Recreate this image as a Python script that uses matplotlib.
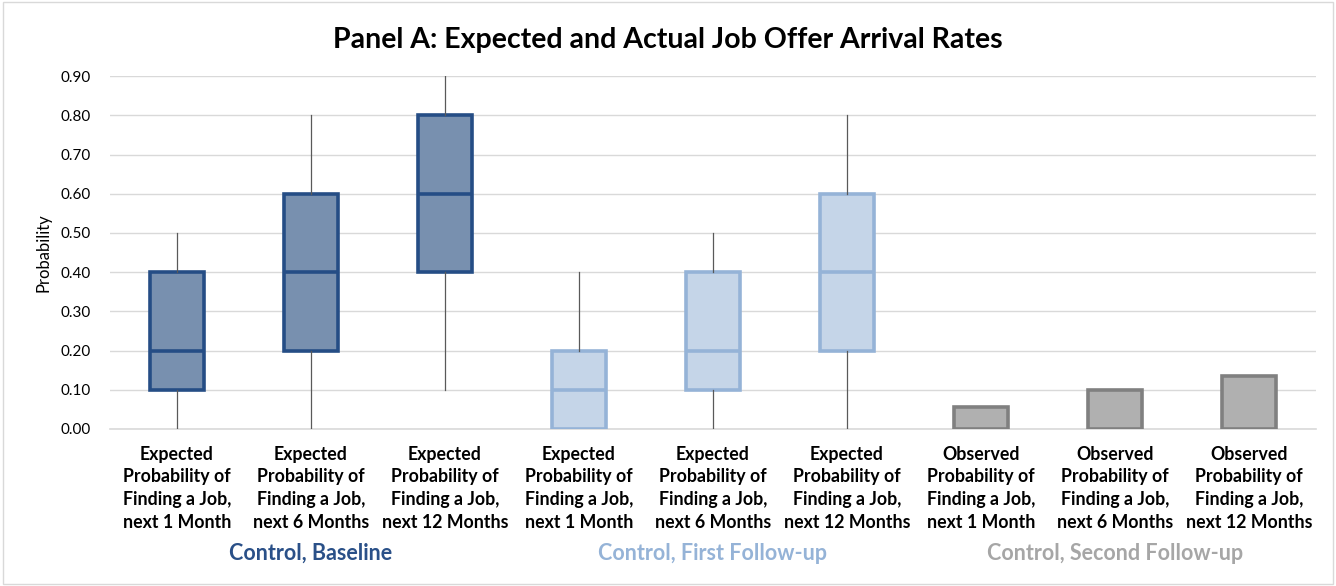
import matplotlib
matplotlib.use("Agg")
import matplotlib.pyplot as plt
from matplotlib.patches import Rectangle

plt.rcParams['font.family'] = ['Lato', 'DejaVu Sans']

# categories (tick labels)
labels = [
    "Expected\nProbability of\nFinding a Job,\nnext 1 Month",
    "Expected\nProbability of\nFinding a Job,\nnext 6 Months",
    "Expected\nProbability of\nFinding a Job,\nnext 12 Months",
    "Expected\nProbability of\nFinding a Job,\nnext 1 Month",
    "Expected\nProbability of\nFinding a Job,\nnext 6 Months",
    "Expected\nProbability of\nFinding a Job,\nnext 12 Months",
    "Observed\nProbability of\nFinding a Job,\nnext 1 Month",
    "Observed\nProbability of\nFinding a Job,\nnext 6 Months",
    "Observed\nProbability of\nFinding a Job,\nnext 12 Months",
]
groups = ["Control, Baseline", "Control, First Follow-up", "Control, Second Follow-up"]

# box plot stats for the expected probabilities (baseline, then first follow-up)
whislo = [0.0, 0.0, 0.1, 0.0, 0.0, 0.0]
q1 = [0.1, 0.2, 0.4, 0.0, 0.1, 0.2]
med = [0.2, 0.4, 0.6, 0.1, 0.2, 0.4]
q3 = [0.4, 0.6, 0.8, 0.2, 0.4, 0.6]
whishi = [0.5, 0.8, 0.9, 0.4, 0.5, 0.8]

# observed probabilities (second follow-up)
observed = [0.057, 0.10, 0.135]

fill_cols = ["#7890AF", "#C5D5E8"]
edge_cols = ["#254D85", "#95B3D7"]
group_cols = ["#2A5088", "#95B3D7", "#A6A6A6"]

fig = plt.figure(figsize=(13.36, 5.86), dpi=100)
ax = fig.add_axes([0.0823, 0.268, 0.9027, 0.602])

for i in range(6):
    st = [dict(whislo=whislo[i], q1=q1[i], med=med[i], q3=q3[i], whishi=whishi[i], fliers=[])]
    g = i // 3
    ax.bxp(st, positions=[i], widths=0.40, patch_artist=True, showcaps=False,
           boxprops=dict(facecolor=fill_cols[g], edgecolor=edge_cols[g], linewidth=2.6),
           medianprops=dict(color=edge_cols[g], linewidth=2.6),
           whiskerprops=dict(color="#595959", linewidth=0.9),
           manage_ticks=False, zorder=3)

ax.bar(range(6, 9), observed, width=0.40, color="#B0B0B0", edgecolor="#808080",
       linewidth=2.6, zorder=3)

ax.set_xlim(-0.5, 8.5)
ax.set_ylim(0, 0.9)
ax.set_yticks([i / 10 for i in range(10)])
ax.set_yticklabels([f"{i / 10:.2f}" for i in range(10)], fontsize=11)
ax.set_xticks(range(9))
ax.set_xticklabels(labels, fontsize=12.8, fontweight='bold', linespacing=1.42)
ax.tick_params(axis='both', length=0, colors="#000000")
ax.tick_params(axis='x', pad=12)
ax.tick_params(axis='y', pad=14)
ax.grid(axis='y', color="#D9D9D9", linewidth=1)
ax.set_axisbelow(True)
for s in ['top', 'right', 'left']:
    ax.spines[s].set_visible(False)
ax.spines['bottom'].set_color("#D9D9D9")
ax.spines['bottom'].set_linewidth(1.2)
ax.set_ylabel("Probability", fontsize=12, labelpad=6)

for k, name in enumerate(groups):
    ax.text(3 * k + 1, -0.318, name, transform=ax.transData, ha='center', va='center',
            fontsize=15.5, fontweight='bold', color=group_cols[k])

fig.text(0.5, 0.932, "Panel A: Expected and Actual Job Offer Arrival Rates",
         ha='center', va='center', fontsize=20.5, fontweight='bold')

fig.patches.append(Rectangle((0.002, 0.003), 0.996, 0.994, transform=fig.transFigure,
                             fill=False, edgecolor="#D9D9D9", linewidth=1))

fig.savefig("out.png", dpi=100)
